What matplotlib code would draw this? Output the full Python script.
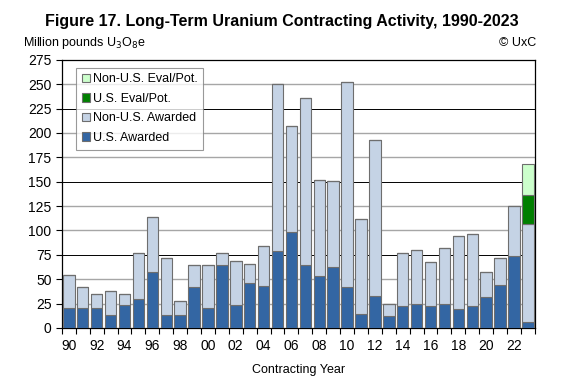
import numpy as np
import matplotlib.pyplot as plt
from matplotlib.ticker import MultipleLocator

plt.rcParams['font.family'] = ['Liberation Sans', 'DejaVu Sans']

years = list(range(1990, 2024))
us_awarded = [20, 20, 20, 13, 23, 30, 57, 13, 13, 42, 20, 65, 23, 46, 43, 79,
              98, 65, 53, 62, 42, 14, 33, 12, 22, 25, 22, 25, 19, 22, 32, 44,
              74, 6]
non_us_awarded = [34, 22, 15, 25, 12, 47, 57, 59, 15, 22, 44, 12, 46, 20, 41, 171,
                  109, 171, 99, 89, 210, 98, 160, 12, 55, 55, 46, 57, 75, 74, 25, 28,
                  51, 101]
us_eval = [0] * 33 + [29]
non_us_eval = [0] * 33 + [32]
tick_labels = ['90', '92', '94', '96', '98', '00', '02', '04', '06', '08', '10',
               '12', '14', '16', '18', '20', '22']

x = np.arange(len(years))
us_a = np.array(us_awarded)
nus_a = np.array(non_us_awarded)
us_e = np.array(us_eval)
nus_e = np.array(non_us_eval)

fig = plt.figure(figsize=(5.63, 3.76), dpi=100)
ax = fig.add_axes([0.110, 0.128, 0.840, 0.713])

w = 0.82
ec = '#6e6e6e'
b1 = ax.bar(x, us_a, w, color='#3366a3', edgecolor=ec, linewidth=0.8, zorder=3, label='U.S. Awarded')
b2 = ax.bar(x, nus_a, w, bottom=us_a, color='#c5d3e5', edgecolor=ec, linewidth=0.8, zorder=3,
            label='Non-U.S. Awarded')
b3 = ax.bar(x, us_e, w, bottom=us_a + nus_a, color='#007f00', edgecolor=ec, linewidth=0.8, zorder=3,
            label='U.S. Eval/Pot.')
b4 = ax.bar(x, nus_e, w, bottom=us_a + nus_a + us_e, color='#ccffcc', edgecolor=ec, linewidth=0.8,
            zorder=3, label='Non-U.S. Eval/Pot.')

ax.set_xlim(-0.5, len(years) - 0.5)
ax.set_ylim(0, 275)
ax.yaxis.set_major_locator(MultipleLocator(25))
for v in range(25, 275, 25):
    if v % 75 == 0:
        ax.axhline(v, color='black', linewidth=0.7, zorder=1)
    else:
        ax.axhline(v, color='#a6a6a6', linewidth=1.0, zorder=1)

ax.set_xticks(x[::2])
ax.set_xticklabels(tick_labels)
ax.set_xticks(np.arange(-0.5, len(years)), minor=True)
ax.tick_params(axis='x', which='major', length=0, labelsize=10, pad=8)
ax.tick_params(axis='x', which='minor', length=4, direction='out', width=0.8)
ax.tick_params(axis='y', length=4, direction='out', width=0.8, labelsize=10)
for s in ax.spines.values():
    s.set_linewidth(0.9)

ax.set_xlabel('Contracting Year', fontsize=9, labelpad=8)

fig.text(0.5, 0.942, 'Figure 17. Long-Term Uranium Contracting Activity, 1990-2023',
         ha='center', va='center', fontsize=11.5, fontweight='bold')
fig.text(0.04, 0.885, 'Million pounds U$_3$O$_8$e', ha='left', va='center', fontsize=9)
fig.text(0.952, 0.885, '© UxC', ha='right', va='center', fontsize=9)

leg = ax.legend(handles=[b4, b3, b2, b1], loc='upper left', bbox_to_anchor=(0.03, 0.97),
                fontsize=9, frameon=True, fancybox=False, handlelength=0.7, handleheight=0.7,
                handletextpad=0.2, labelspacing=0.6, borderpad=0.45, borderaxespad=0)
leg.get_frame().set_edgecolor('#808080')
leg.get_frame().set_linewidth(0.8)

fig.savefig('out.png', dpi=100)
